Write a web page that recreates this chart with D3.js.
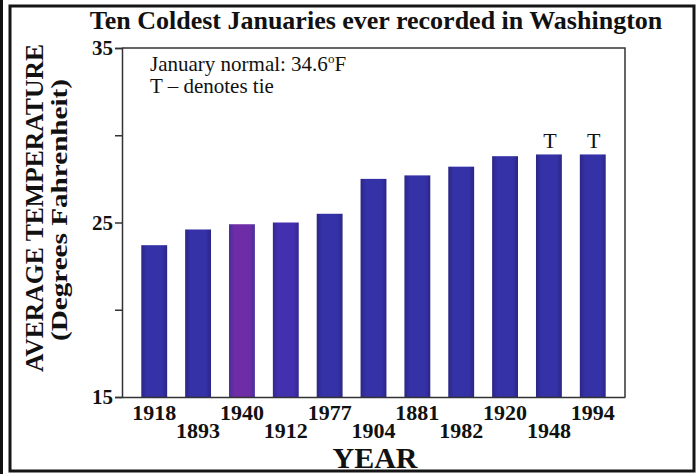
<!DOCTYPE html>
<html>
<head>
<meta charset="utf-8">
<script src="https://cdn.jsdelivr.net/npm/d3@7"></script>
<style>
  html, body { margin: 0; padding: 0; background: #fff; }
  svg { display: block; }
  text { font-family: "Liberation Serif", "Times New Roman", serif; fill: #111; }
</style>
</head>
<body>
<svg id="chart" width="698" height="474"></svg>
<script>
// ---- data ----
const years = ["1918", "1893", "1940", "1912", "1977", "1904", "1881", "1982", "1920", "1948", "1994"];
const temps = [23.7, 24.6, 24.9, 25.0, 25.5, 27.5, 27.7, 28.2, 28.8, 28.9, 28.9];
const tieYears = ["1948", "1994"];
const yTicks = [15, 20, 25, 30, 35];
const yTickLabels = [15, 25, 35];
const title = "Ten Coldest Januaries ever recorded in Washington";
const yTitle1 = "AVERAGE TEMPERATURE";
const yTitle2 = "(Degrees Fahrenheit)";
const xTitle = "YEAR";

// ---- layout ----
const W = 698, H = 474;
const plot = { left: 122, right: 625, top: 48, bottom: 397 };
const svg = d3.select("#chart");

svg.append("rect").attr("width", W).attr("height", H).attr("fill", "#fff");

// gradients (scan-like bar shading)
const defs = svg.append("defs");
function grad(id, edge, mid) {
  const g = defs.append("linearGradient").attr("id", id).attr("x1", "0").attr("x2", "1").attr("y1", "0").attr("y2", "0");
  g.append("stop").attr("offset", "0%").attr("stop-color", edge);
  g.append("stop").attr("offset", "20%").attr("stop-color", mid);
  g.append("stop").attr("offset", "80%").attr("stop-color", mid);
  g.append("stop").attr("offset", "100%").attr("stop-color", edge);
}
grad("gBlue", "#2a2686", "#3531a6");
grad("gViolet", "#33288f", "#4230ae");
grad("gPurple", "#45309e", "#6e2ca6");
const barFill = { "1940": "url(#gPurple)", "1912": "url(#gViolet)" };

// outer frame
svg.append("line").attr("x1", 1.5).attr("x2", 1.5).attr("y1", 0).attr("y2", H)
  .attr("stroke", "#111").attr("stroke-width", 3);
svg.append("rect").attr("x", 10).attr("y", 6).attr("width", 684).attr("height", 465)
  .attr("fill", "none").attr("stroke", "#151515").attr("stroke-width", 3);

// scales
const x = d3.scaleBand().domain(years).range([plot.left, plot.right])
  .paddingInner(0.41).paddingOuter(0.44);
const y = d3.scaleLinear().domain([15, 35]).range([plot.bottom, plot.top]);

// bars
svg.append("g").selectAll("rect").data(years).join("rect")
  .attr("x", d => x(d))
  .attr("width", x.bandwidth())
  .attr("y", (d, i) => y(temps[i]))
  .attr("height", (d, i) => y(15) - y(temps[i]))
  .attr("fill", d => barFill[d] || "url(#gBlue)");

// plot frame (top & right)
svg.append("path")
  .attr("d", `M${plot.left},${plot.top}H${plot.right}V${plot.bottom}`)
  .attr("fill", "none").attr("stroke", "#333").attr("stroke-width", 1.5);

// y axis
const yAxis = svg.append("g").attr("transform", `translate(${plot.left},0)`)
  .call(d3.axisLeft(y).tickValues(yTicks).tickSize(7).tickPadding(2)
    .tickFormat(d => yTickLabels.includes(d) ? d : ""));
yAxis.select(".domain").attr("stroke", "#333").attr("stroke-width", 1.5);
yAxis.selectAll(".tick line").attr("stroke", "#333").attr("stroke-width", 1.5);
yAxis.selectAll(".tick text").attr("font-family", "Liberation Serif, serif")
  .attr("font-size", 21).attr("font-weight", "bold").attr("fill", "#111");

// x axis
const xAxis = svg.append("g").attr("transform", `translate(0,${plot.bottom})`)
  .call(d3.axisBottom(x).tickSize(0).tickPadding(0));
xAxis.select(".domain").attr("stroke", "#333").attr("stroke-width", 1.5);
xAxis.selectAll(".tick text")
  .attr("font-family", "Liberation Serif, serif")
  .attr("font-size", 22).attr("font-weight", "bold").attr("fill", "#111")
  .attr("dy", null)
  .attr("y", (d, i) => i % 2 === 0 ? 23 : 41);

// tie markers
svg.append("g").selectAll("text").data(tieYears).join("text")
  .attr("x", d => x(d) + x.bandwidth() / 2 + 1)
  .attr("y", d => y(temps[years.indexOf(d)]) - 6)
  .attr("text-anchor", "middle").attr("font-size", 22)
  .text("T");

// title
svg.append("text").attr("x", 376).attr("y", 29).attr("text-anchor", "middle")
  .attr("font-size", 26).attr("font-weight", "bold").text(title);

// annotation
const note = svg.append("text").attr("x", 150).attr("y", 71).attr("font-size", 21);
note.append("tspan").text("January normal: 34.6");
note.append("tspan").attr("font-size", 13).attr("dy", -8).text("o");
note.append("tspan").attr("dy", 8).text("F");
svg.append("text").attr("x", 150).attr("y", 93).attr("font-size", 21).text("T \u2013 denotes tie");

// y titles
svg.append("text").attr("transform", "translate(43,208) rotate(-90)")
  .attr("text-anchor", "middle").attr("font-size", 25).attr("font-weight", "bold")
  .attr("textLength", 328).attr("lengthAdjust", "spacingAndGlyphs")
  .text(yTitle1);
svg.append("text").attr("transform", "translate(67,210) rotate(-90)")
  .attr("text-anchor", "middle").attr("font-size", 24).attr("font-weight", "bold")
  .attr("textLength", 262).attr("lengthAdjust", "spacingAndGlyphs")
  .text(yTitle2);

// x title
svg.append("text").attr("x", 375).attr("y", 468).attr("text-anchor", "middle")
  .attr("font-size", 30).attr("font-weight", "bold").text(xTitle);
</script>
</body>
</html>
